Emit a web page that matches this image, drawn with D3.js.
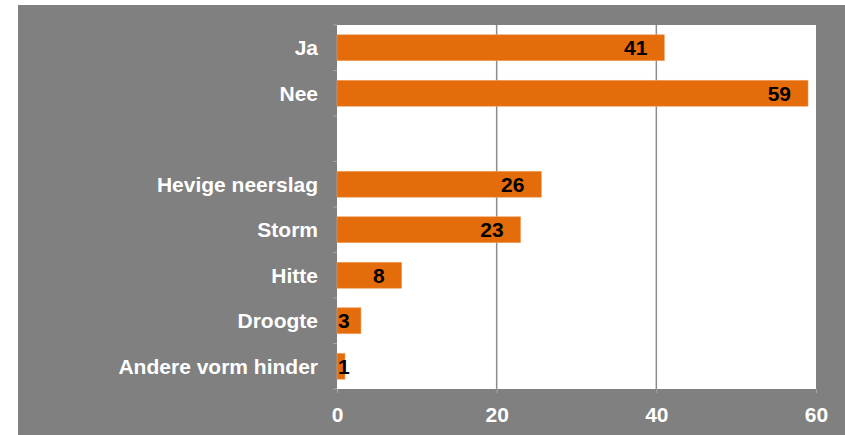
<!DOCTYPE html>
<html><head><meta charset="utf-8">
<script src="https://cdn.jsdelivr.net/npm/d3@7"></script>
<style>html,body{margin:0;padding:0;background:#fff;}svg{display:block;}</style>
</head><body>
<svg id="c" width="845" height="435"></svg>
<script>
const categories = ["Ja","Nee","","Hevige neerslag","Storm","Hitte","Droogte","Andere vorm hinder"];
const values = [41, 59, null, 25.6, 23, 8.1, 3, 1];
const tickValues = [0, 20, 40, 60];

const svg = d3.select("#c");
const W = 845, H = 435;
const m = {left: 337, right: 816, top: 25, bottom: 389};
const font = "'Liberation Sans', Arial, sans-serif";
const fs = 21;

svg.append("rect").attr("x", 18).attr("y", 5).attr("width", W - 18).attr("height", H - 5).attr("fill", "#808080");
svg.append("rect").attr("x", m.left).attr("y", m.top).attr("width", m.right - m.left).attr("height", m.bottom - m.top).attr("fill", "#fff");

const x = d3.scaleLinear().domain([0, 60]).range([m.left, m.right]);
const y = d3.scaleBand().domain(categories.map((c, i) => i)).range([m.top, m.bottom]).paddingInner(0.43).paddingOuter(0.215);

// gridlines
svg.append("g").selectAll("line").data(tickValues.filter(t => t > 0 && t < 60)).join("line")
  .attr("x1", d => x(d)).attr("x2", d => x(d)).attr("y1", m.top).attr("y2", m.bottom)
  .attr("stroke", "#8c8c8c").attr("stroke-width", 1.5);

// x axis
const xa = svg.append("g").attr("transform", `translate(0,${m.bottom})`)
  .call(d3.axisBottom(x).tickValues(tickValues).tickSize(4).tickPadding(14));
xa.select(".domain").remove();
xa.selectAll("line").attr("stroke", "#a6a6a6");
xa.selectAll("text").attr("fill", "#fff").attr("font-family", font).attr("font-weight", "bold").attr("font-size", fs);

// y axis tick marks at band boundaries
const step = y.step();
const bounds = d3.range(categories.length + 1).map(i => m.top + i * step);
svg.append("g").selectAll("line").data(bounds).join("line")
  .attr("x1", m.left - 4).attr("x2", m.left).attr("y1", d => d).attr("y2", d => d)
  .attr("stroke", "#a6a6a6");

// category labels
svg.append("g").selectAll("text").data(categories).join("text")
  .attr("x", m.left - 19).attr("y", (d, i) => y(i) + y.bandwidth() / 2)
  .attr("text-anchor", "end").attr("dominant-baseline", "central")
  .attr("fill", "#fff").attr("font-family", font).attr("font-weight", "bold").attr("font-size", fs)
  .text(d => d);

const data = categories.map((c, i) => ({i, c, v: values[i]})).filter(d => d.v != null);

svg.append("g").selectAll("rect").data(data).join("rect")
  .attr("x", x(0)).attr("y", d => y(d.i)).attr("width", d => x(d.v) - x(0)).attr("height", y.bandwidth())
  .attr("fill", "#e46c0a").attr("stroke", "#f0a060").attr("stroke-width", 0.6);

const fmt = d3.format(".0f");
const lbl = svg.append("g").selectAll("text").data(data).join("text")
  .attr("y", d => y(d.i) + y.bandwidth() / 2)
  .attr("text-anchor", "end").attr("dominant-baseline", "central")
  .attr("fill", "#000").attr("font-family", font).attr("font-weight", "bold").attr("font-size", fs)
  .text(d => fmt(d.v));
lbl.each(function(d) {
  const w = this.getComputedTextLength();
  const xe = Math.max(x(d.v) - 17, x(0) + w + 1);
  d3.select(this).attr("x", xe);
});
</script>
</body></html>
